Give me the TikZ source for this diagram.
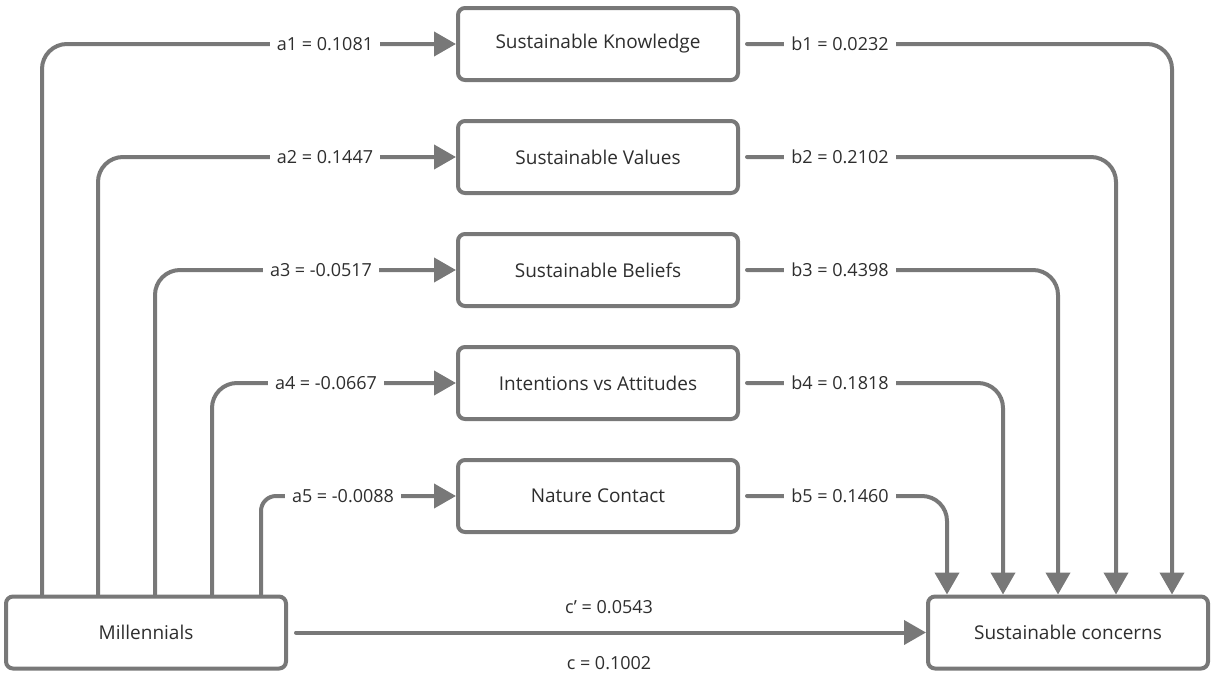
\documentclass[tikz,border=0pt]{standalone}
\usepackage{fontspec}
\setmainfont{Open Sans}
\usetikzlibrary{arrows.meta}
\definecolor{lg}{HTML}{787878}
\definecolor{tx}{HTML}{2E2E2E}
\tikzset{
  box/.style={draw=lg, line width=4pt, rounded corners=7pt, fill=white,
    minimum width=280pt, minimum height=72pt, text=tx, inner sep=0pt,
    font=\fontsize{19}{22}\selectfont},
  conn/.style={draw=lg, line width=4pt, line cap=round, rounded corners=25pt,
    -{Triangle[length=22pt,width=24pt]}},
  lbl/.style={fill=white, text=tx, inner xsep=7pt, inner ysep=3pt,
    font=\fontsize{18}{21}\selectfont}
}
\begin{document}
\begin{tikzpicture}[x=1pt,y=-1pt]
\useasboundingbox (0,0) rectangle (1212,675);
% nodes
\node[box] (k) at (598,44) {Sustainable Knowledge};
\node[box] (v) at (598,157) {Sustainable Values};
\node[box] (b) at (598,270) {Sustainable Beliefs};
\node[box] (i) at (598,383) {Intentions vs Attitudes};
\node[box] (n) at (598,496) {Nature Contact};
\node[box] (mil) at (146,632.5) {Millennials};
\node[box] (con) at (1068,632.5) {Sustainable concerns};
% x positions
\coordinate (l1) at (42,0);
\coordinate (l2) at (98,0);
\coordinate (l3) at (155,0);
\coordinate (l4) at (212,0);
\coordinate (l5) at (261,0);
\coordinate (r1) at (1172,0);
\coordinate (r2) at (1116,0);
\coordinate (r3) at (1058,0);
\coordinate (r4) at (1003,0);
\coordinate (r5) at (947,0);
% a paths
\draw[conn] (l1 |- mil.north) |- (k.west);
\draw[conn] (l2 |- mil.north) |- (v.west);
\draw[conn] (l3 |- mil.north) |- (b.west);
\draw[conn] (l4 |- mil.north) |- (i.west);
\draw[conn, rounded corners=15pt] (l5 |- mil.north) |- (n.west);
% b paths
\draw[conn, shorten <=7pt] (k.east) -| (r1 |- con.north);
\draw[conn, shorten <=7pt] (v.east) -| (r2 |- con.north);
\draw[conn, shorten <=7pt] (b.east) -| (r3 |- con.north);
\draw[conn, shorten <=7pt] (i.east) -| (r4 |- con.north);
\draw[conn, shorten <=7pt] (n.east) -| (r5 |- con.north);
% direct path
\draw[conn, shorten <=8pt] (mil.east) -- (con.west);
% labels
\node[lbl] (la1) at (325,44) {a1 = 0.1081};
\node[lbl] (la2) at (325,157) {a2 = 0.1447};
\node[lbl] (la3) at (321,270) {a3 = -0.0517};
\node[lbl] (la4) at (326,383) {a4 = -0.0667};
\node[lbl] (la5) at (343,496) {a5 = -0.0088};
\node[lbl] (lb1) at (840,44) {b1 = 0.0232};
\node[lbl] (lb2) at (840,157) {b2 = 0.2102};
\node[lbl] (lb3) at (840,270) {b3 = 0.4398};
\node[lbl] (lb4) at (840,383) {b4 = 0.1818};
\node[lbl] (lb5) at (840,496) {b5 = 0.1460};
\node[text=tx, font=\fontsize{18}{21}\selectfont] (lcp) at (609,607) {c’ = 0.0543};
\node[text=tx, font=\fontsize{18}{21}\selectfont] (lc) at (609,663) {c = 0.1002};
\end{tikzpicture}
\end{document}
